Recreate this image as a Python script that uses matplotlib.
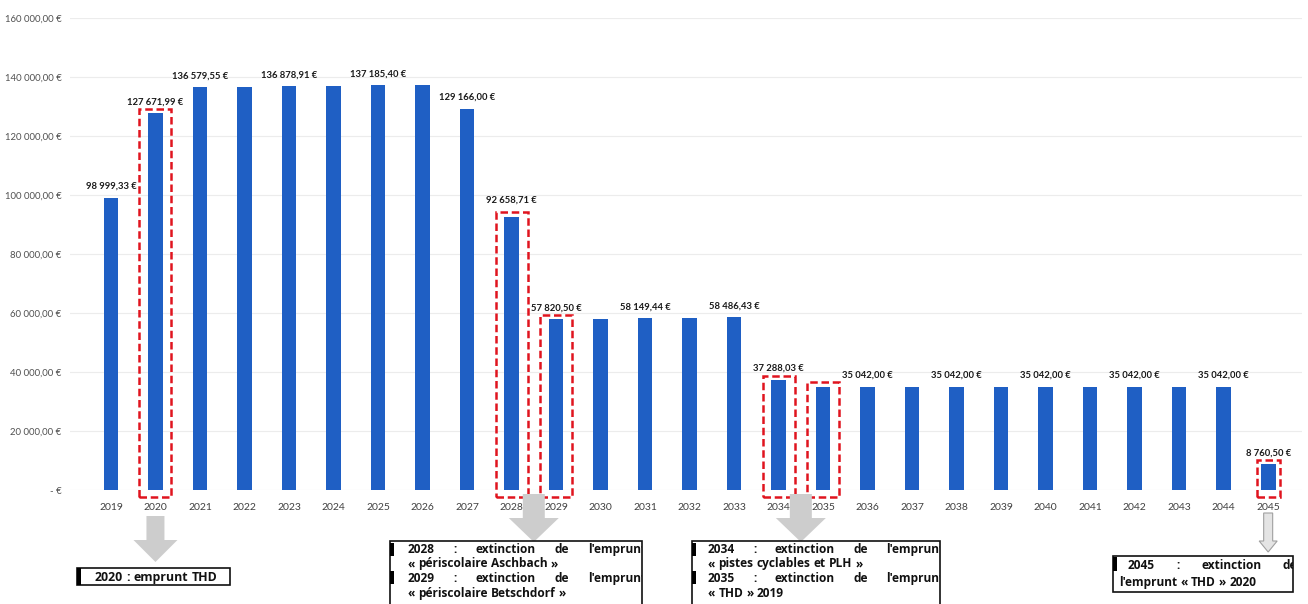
import matplotlib
matplotlib.use("Agg")
import matplotlib.pyplot as plt
from matplotlib.patches import Rectangle, Polygon
import numpy as np

# ---------------- data ----------------
years = [str(y) for y in range(2019, 2046)]
values = [98999.33, 127671.99, 136579.55, 136730.00, 136878.91, 137030.00,
          137185.40, 137400.00, 129166.00, 92658.71, 57820.50, 57985.00,
          58149.44, 58320.00, 58486.43, 37288.03, 35042.00, 35042.00,
          35042.00, 35042.00, 35042.00, 35042.00, 35042.00, 35042.00,
          35042.00, 35042.00, 8760.50]
labeled_years = ["2019", "2020", "2021", "2023", "2025", "2027", "2028", "2029",
                 "2031", "2033", "2034", "2036", "2038", "2040", "2042", "2044", "2045"]
highlight_years = ["2020", "2028", "2029", "2034", "2035", "2045"]
y_ticks = [0, 20000, 40000, 60000, 80000, 100000, 120000, 140000, 160000]

box1_lines = ["2020 : emprunt THD"]
box2_lines = ["2028 : extinction de l'emprunt", "« périscolaire Aschbach »",
              "2029 : extinction de l'emprunt", "« périscolaire Betschdorf »"]
box3_lines = ["2034 : extinction de l'emprunt", "« pistes cyclables et PLH »",
              "2035 : extinction de l'emprunt", "« THD » 2019"]
box4_lines = ["2045 : extinction de", "l'emprunt « THD » 2020"]


def fr(v, dec=2):
    s = f"{v:,.{dec}f}"
    return s.replace(",", " ").replace(".", ",")


W, H = 1308, 604
BAR = "#1f5fc4"
TICKFONT = ["Lato", "DejaVu Sans"]
BOXFONT = ["Open Sans", "DejaVu Sans"]

fig = plt.figure(figsize=(W / 100, H / 100), dpi=100)
ax_l, ax_r, ax_t, ax_b = 70, 1302, 18, 490
ax = fig.add_axes([ax_l / W, 1 - ax_b / H, (ax_r - ax_l) / W, (ax_b - ax_t) / H])

x = np.arange(len(years))
ax.bar(x, values, width=0.33, color=BAR, zorder=3)
ax.set_xlim(-0.92, 26.76)
ax.set_ylim(0, 160000)
ax.set_yticks(y_ticks)
ax.set_yticklabels(["- €" if t == 0 else fr(t) + " €" for t in y_ticks],
                   fontsize=6.9, color="#505050", family=TICKFONT)
ax.set_xticks(x)
ax.set_xticklabels(years, fontsize=7.5, color="#404040", family=TICKFONT)
ax.tick_params(axis="both", length=0)
ax.tick_params(axis="x", pad=9)
ax.tick_params(axis="y", pad=6)
for s in ax.spines.values():
    s.set_visible(False)
ax.grid(axis="y", color="#ececec", linewidth=0.8, zorder=0)

# data labels
for yr in labeled_years:
    i = years.index(yr)
    v = values[i]
    off = 5 if yr not in ("2028",) else 9
    ax.annotate(fr(v) + " €", (i, v), xytext=(0, off), textcoords="offset points",
                ha="center", va="bottom", fontsize=6.8, weight="bold",
                color="#1a1a1a", family=TICKFONT)

# red dashed highlight boxes
for yr in highlight_years:
    i = years.index(yr)
    v = values[i]
    w = 0.72 if yr != "2045" else 0.52
    ax.add_patch(Rectangle((i - w / 2, -2500), w, v + 4000, fill=False,
                           edgecolor="#e0141e", linestyle=(0, (3, 1.5)),
                           linewidth=1.8, zorder=4, clip_on=False))


# ---------------- annotations (figure pixel layout) ----------------
def px_of(i):
    return ax.transData.transform((i, 0))[0]


def fx(p):
    return p / W


def fy(p):
    return 1 - p / H


def block_arrow(cx, y0, y1, yh, sw, hw, color="#cdcdcd", ec="none"):
    pts = [(cx - sw / 2, y0), (cx + sw / 2, y0), (cx + sw / 2, yh),
           (cx + hw / 2, yh), (cx, y1), (cx - hw / 2, yh), (cx - sw / 2, yh)]
    fig.add_artist(Polygon([(fx(a), fy(b)) for a, b in pts], closed=True,
                           transform=fig.transFigure, facecolor=color,
                           edgecolor=ec, linewidth=0.8))


fig.canvas.draw()
renderer = fig.canvas.get_renderer()


def measure(s, size):
    t = fig.text(0, 0, s, fontsize=size, weight="bold", family=BOXFONT)
    w = t.get_window_extent(renderer).width
    t.remove()
    return w


def box(x0, y0, x1, y1, bars):
    r = Rectangle((fx(x0), fy(y1)), (x1 - x0) / W, (y1 - y0) / H,
                  transform=fig.transFigure, facecolor="white",
                  edgecolor="#111111", linewidth=1.2, zorder=5)
    fig.add_artist(r)
    for (b0, b1) in bars:
        fig.add_artist(Rectangle((fx(x0), fy(b1)), 4 / W, (b1 - b0) / H,
                                 transform=fig.transFigure, facecolor="black",
                                 edgecolor="none", zorder=6))
    return r


def line(text, x0, x1, y, size, clip, justify):
    words = text.split(" ")
    widths = [measure(w, size) for w in words]
    if justify and len(words) > 1:
        gap = (x1 - x0 - sum(widths)) / (len(words) - 1)
    else:
        gap = measure("a a", size) - measure("aa", size)
    xx = x0
    for w, wd in zip(words, widths):
        t = fig.text(fx(xx), fy(y + size * 0.45), w, fontsize=size, weight="bold",
                     family=BOXFONT, va="baseline", ha="left", color="#111111",
                     zorder=7)
        t.set_clip_path(clip)
        xx += wd + gap


i2020 = years.index("2020")
i2028 = years.index("2028")
i2029 = years.index("2029")
i2034 = years.index("2034")
i2035 = years.index("2035")
i2045 = years.index("2045")

block_arrow(px_of(i2020), 516, 562, 540, 18, 44)
block_arrow(px_of((i2028 + i2029) / 2), 494, 542, 518, 22, 50)
block_arrow(px_of((i2034 + i2035) / 2), 494, 542, 518, 22, 50)
block_arrow(px_of(i2045), 513, 552, 541, 9, 18, color="#e4e4e4", ec="#a0a0a0")

FS = 8.6
# box 1
r1 = box(77, 568, 230, 585, [(568, 585)])
line(box1_lines[0], 95, 220, 576.5, 8.9, r1, False)

# box 2
r2 = box(390, 541, 642, 610, [(543, 556), (571, 584)])
ys = [549, 563.5, 578, 593]
for k, t in enumerate(box2_lines):
    line(t, 408, 646, ys[k], FS, r2, k % 2 == 0)

# box 3
r3 = box(692, 541, 940, 610, [(543, 556), (571, 584)])
for k, t in enumerate(box3_lines):
    line(t, 708, 944, ys[k], FS, r3, k % 2 == 0)

# box 4
r4 = box(1113, 556, 1293, 592, [(557, 571)])
line(box4_lines[0], 1128, 1297, 565, FS, r4, True)
line(box4_lines[1], 1119, 1290, 582, FS, r4, False)

fig.savefig("out.png", dpi=100)
